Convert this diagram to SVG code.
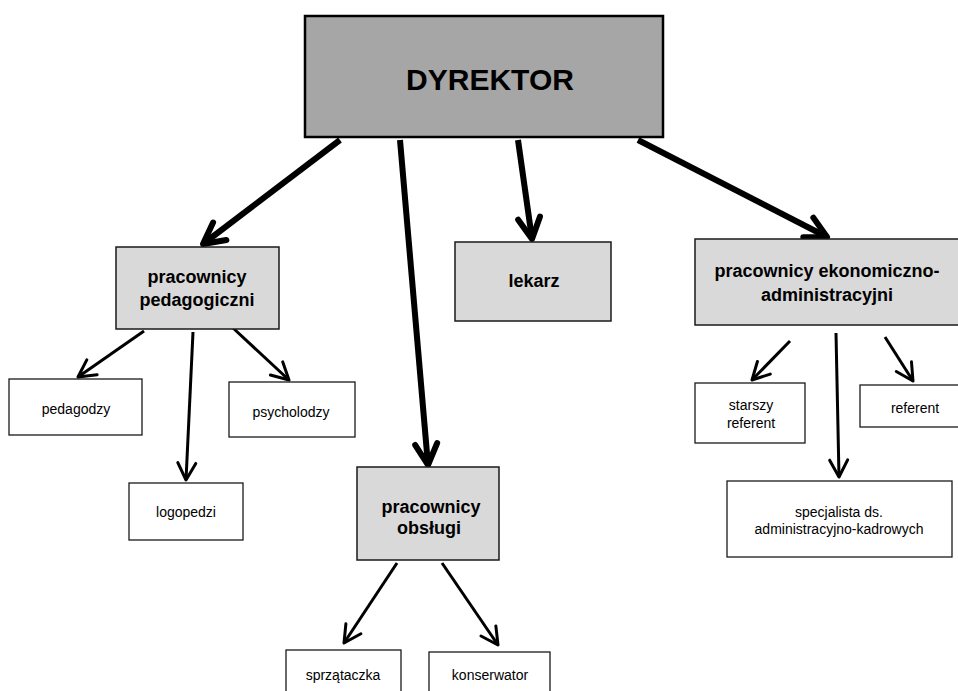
<svg xmlns="http://www.w3.org/2000/svg" width="958" height="691" viewBox="0 0 958 691">
<style>
.bg{fill:#ffffff}
.top{fill:#a6a6a6;stroke:#000;stroke-width:2.5}
.mid{fill:#d9d9d9;stroke:#1a1a1a;stroke-width:1.5}
.leaf{fill:#ffffff;stroke:#1a1a1a;stroke-width:1.3}
.tb{font-family:"Liberation Sans",Arial,sans-serif;font-weight:bold;fill:#000;text-anchor:middle}
.tr{font-family:"Liberation Sans",Arial,sans-serif;font-size:14px;fill:#000;text-anchor:middle}
.big{stroke:#000;stroke-width:6;fill:none;marker-end:url(#hb)}
.small{stroke:#000;stroke-width:3;fill:none;marker-end:url(#hs)}
</style>
<defs>
<marker id="hb" markerUnits="userSpaceOnUse" orient="auto" refX="0" refY="0" markerWidth="50" markerHeight="50" viewBox="-30 -25 50 50" overflow="visible">
<path d="M-21,-11 L0,0 L-21,11" fill="none" stroke="#000" stroke-width="6" stroke-linecap="round" stroke-linejoin="round"/>
</marker>
<marker id="hs" markerUnits="userSpaceOnUse" orient="auto" refX="0" refY="0" markerWidth="40" markerHeight="40" viewBox="-25 -20 40 40" overflow="visible">
<path d="M-17,-9 L0,0 L-17,9" fill="none" stroke="#000" stroke-width="3" stroke-linecap="round" stroke-linejoin="round"/>
</marker>
</defs>
<rect class="bg" x="0" y="0" width="958" height="691"/>

<g id="connectors">
<line class="big" x1="340" y1="140" x2="203" y2="244"/>
<line class="big" x1="400" y1="140" x2="428" y2="465"/>
<line class="big" x1="518" y1="140" x2="532" y2="239"/>
<line class="big" x1="638" y1="140" x2="827" y2="237"/>
<line class="small" x1="144" y1="331" x2="78" y2="377"/>
<line class="small" x1="193" y1="332" x2="186" y2="480"/>
<line class="small" x1="233" y1="328" x2="289" y2="380"/>
<line class="small" x1="397" y1="563" x2="344" y2="643"/>
<line class="small" x1="442" y1="563" x2="498" y2="645"/>
<line class="small" x1="790" y1="341" x2="752" y2="380"/>
<line class="small" x1="836" y1="333" x2="839" y2="477"/>
<line class="small" x1="885" y1="337" x2="913" y2="381"/>
</g>

<g id="dyrektor">
<rect class="top" x="305" y="16" width="358" height="121"/>
<text class="tb" x="490" y="90" font-size="30">DYREKTOR</text>
</g>

<g id="pedagogiczni">
<rect class="mid" x="116" y="247" width="163" height="82"/>
<text class="tb" x="197" y="283" font-size="18">pracownicy</text>
<text class="tb" x="197" y="306" font-size="18">pedagogiczni</text>
</g>

<g id="lekarz">
<rect class="mid" x="455" y="242" width="156" height="79"/>
<text class="tb" x="534" y="287" font-size="18">lekarz</text>
</g>

<g id="ekonomiczno">
<rect class="mid" x="695" y="239" width="270" height="86"/>
<text class="tb" x="827" y="277" font-size="18">pracownicy ekonomiczno-</text>
<text class="tb" x="827" y="301" font-size="18">administracyjni</text>
</g>

<g id="obslugi">
<rect class="mid" x="357" y="467" width="142" height="93"/>
<text class="tb" x="431" y="513" font-size="18">pracownicy</text>
<text class="tb" x="429" y="534" font-size="18">obsługi</text>
</g>

<g id="pedagodzy">
<rect class="leaf" x="9" y="379" width="133" height="56"/>
<text class="tr" x="76" y="414">pedagodzy</text>
</g>

<g id="psycholodzy">
<rect class="leaf" x="229" y="382" width="126" height="55"/>
<text class="tr" x="291" y="417">psycholodzy</text>
</g>

<g id="logopedzi">
<rect class="leaf" x="129" y="483" width="114" height="57"/>
<text class="tr" x="186" y="517">logopedzi</text>
</g>

<g id="sprzataczka">
<rect class="leaf" x="286" y="650" width="115" height="55"/>
<text class="tr" x="343" y="680">sprzątaczka</text>
</g>

<g id="konserwator">
<rect class="leaf" x="429" y="652" width="121" height="55"/>
<text class="tr" x="490" y="680">konserwator</text>
</g>

<g id="starszy-referent">
<rect class="leaf" x="695" y="383" width="110" height="60"/>
<text class="tr" x="751" y="410">starszy</text>
<text class="tr" x="751" y="428">referent</text>
</g>

<g id="referent">
<rect class="leaf" x="860" y="385" width="110" height="42"/>
<text class="tr" x="915" y="413">referent</text>
</g>

<g id="specjalista">
<rect class="leaf" x="727" y="481" width="225" height="76"/>
<text class="tr" x="839" y="517">specjalista ds.</text>
<text class="tr" x="839" y="534">administracyjno-kadrowych</text>
</g>
</svg>
